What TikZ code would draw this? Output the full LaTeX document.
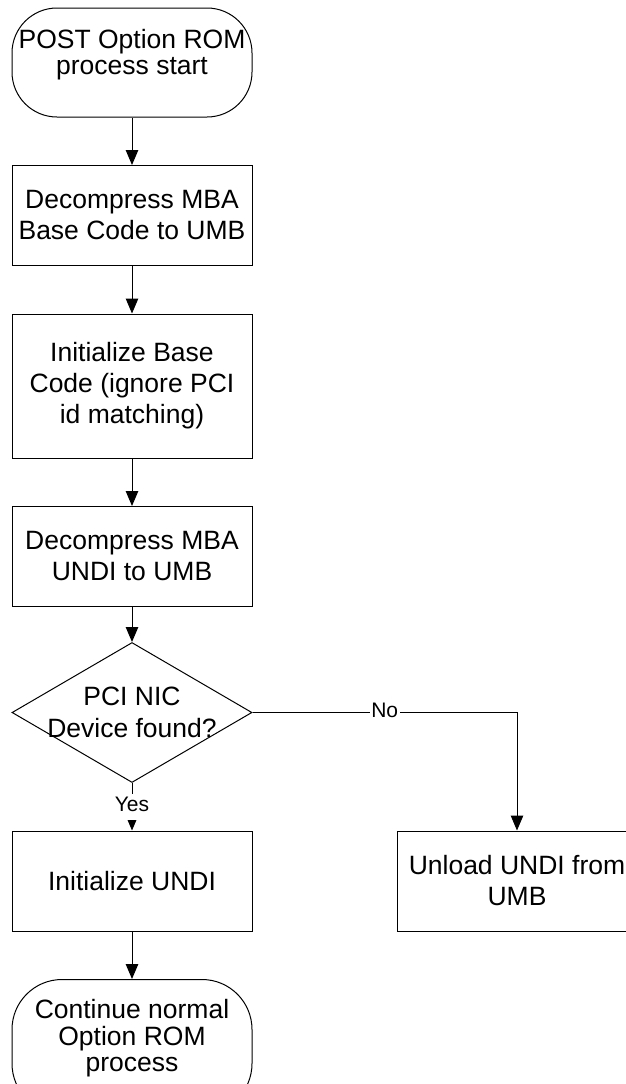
\documentclass[tikz,border=0pt]{standalone}
\usepackage{fontspec}
\setmainfont{Liberation Sans}
\usepackage{tikz}
\usetikzlibrary{
        arrows.meta,
        positioning,
        shapes.geometric
    }
\tikzset{>={Triangle[length=15pt,width=12.5pt]},node distance=47.5pt}

\begin{document}
\begin{tikzpicture}[x=1pt,y=1pt,line width=1pt]
                \tikzset{
                    terminal/.style={draw,rounded corners=45pt,minimum width=240pt,minimum height=109pt,inner sep=2pt,text depth=21.5pt,align=center,font=\fontsize{26.5}{26.5}\selectfont},
                    process/.style={draw,minimum width=240pt,minimum height=100pt,inner sep=2pt,align=center,font=\fontsize{26.5}{31}\selectfont},
                    decision/.style={draw,diamond,minimum width=240pt,minimum height=140pt,inner sep=0pt},
                    branch/.style={fill=white,inner xsep=1.5pt,inner ysep=3pt,text height=15pt,text depth=5pt,font=\fontsize{21}{24}\selectfont}
                }
                \useasboundingbox (0,0) rectangle (626,-1084);
                \node[terminal] (start) at (132,-62.5) {POST Option ROM\\process start};
                \node[process] (unpackbase) [below=of start] {Decompress MBA\\Base Code to UMB};
                \node[process,minimum height=144pt] (initbase) [below=of unpackbase] {Initialize Base\\Code (ignore PCI\\id matching)};
                \node[process] (unpackundi) [below=of initbase] {Decompress MBA\\UNDI to UMB};
                \node[decision,label={[align=center,font=\fontsize{26.5}{32}\selectfont]center:PCI NIC\\Device found?}] (nicfound) [below=35pt of unpackundi] {};
                \node[process] (initundi) [below=of nicfound] {Initialize UNDI};
                \node[process] (unloadundi) [right=144pt of initundi] {Unload UNDI from\\UMB};
                \node[terminal,minimum height=134pt,rounded corners=50pt] (finish) [below=of initundi] {Continue normal\\Option ROM\\process};
                \path[->]
                    (start)      edge  (unpackbase)
                    (unpackbase) edge  (initbase)
                    (initbase)   edge  (unpackundi)
                    (unpackundi) edge  (nicfound)
                    (nicfound)   edge  node[branch] {Yes} (initundi)
                    (initundi)   edge  (finish)
                ;
                \draw[->] (nicfound) -| node[branch,pos=0.25] {No} (unloadundi);
            \end{tikzpicture}
\end{document}
